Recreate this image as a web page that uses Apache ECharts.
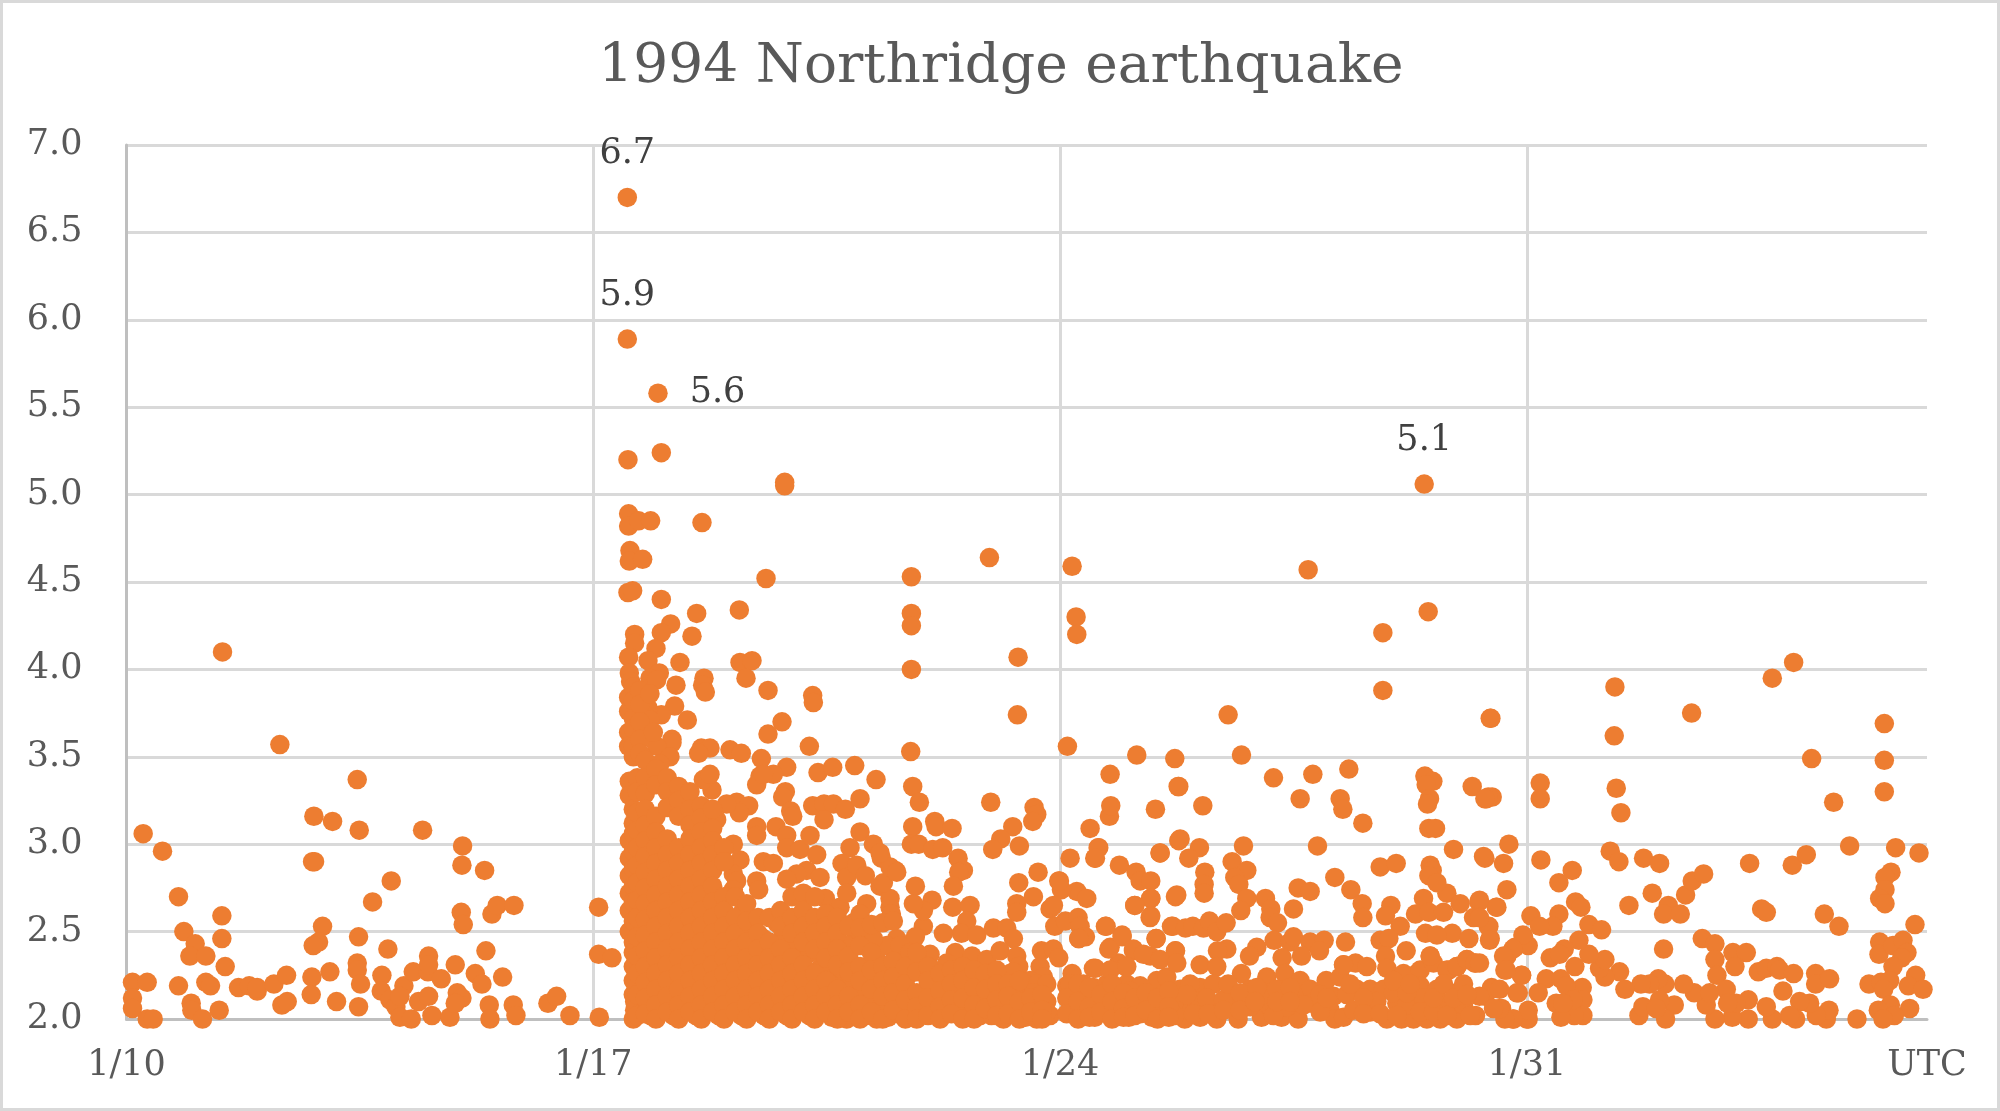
<!DOCTYPE html>
<html><head><meta charset="utf-8">
<style>html,body{margin:0;padding:0;background:#fff}#c{width:2000px;height:1111px}</style>
<script src="https://cdn.jsdelivr.net/npm/echarts@6/dist/echarts.min.js"></script>
</head><body><div id="c"></div>
<script>
const titleText = '1994 Northridge earthquake';
const tickLabels = {0:'1/10',7:'1/17',14:'1/24',21:'1/31',27:'UTC'};
// x = days after 1/10 00:00 UTC, y = magnitude
const labelled = [[7.51,6.70],[7.51,5.89],[7.97,5.58],[19.46,5.06]];
const week1 = [[.25,3.06],[.54,2.96],[.78,2.70],[.86,2.50],[1.03,2.43],[.95,2.36],[1.19,2.36],[1.43,2.59],[1.43,2.46],[1.48,2.30],[1.44,4.10],[.09,2.21],[.31,2.21],[.09,2.12],[.09,2.06],[.31,2.00],[.40,2.00],[.78,2.19],[.97,2.09],[.98,2.05],[1.14,2.00],[1.19,2.21],[1.26,2.19],[1.39,2.05],[1.68,2.18],[1.84,2.19],[1.96,2.16],[1.96,2.18],[2.21,2.20],[2.40,2.25],[2.33,2.08],[2.41,2.10],[2.30,3.57],[2.81,3.16],[3.09,3.13],[3.49,3.08],[3.46,3.37],[2.82,2.90],[2.79,2.90],[2.94,2.53],[2.88,2.44],[2.80,2.42],[2.78,2.24],[2.77,2.14],[3.05,2.27],[3.15,2.10],[3.48,2.47],[3.46,2.32],[3.46,2.28],[3.51,2.20],[3.48,2.07],[3.69,2.67],[3.97,2.79],[4.44,3.08],[3.92,2.40],[3.83,2.25],[3.82,2.16],[3.95,2.11],[4.04,2.07],[4.10,2.01],[4.27,2.00],[4.16,2.19],[4.10,2.13],[4.30,2.27],[4.53,2.36],[4.52,2.27],[4.53,2.31],[4.72,2.23],[4.38,2.10],[4.53,2.13],[4.58,2.02],[4.85,2.01],[4.93,2.31],[4.96,2.15],[5.03,2.12],[4.93,2.09],[5.04,2.99],[5.03,2.88],[5.37,2.85],[5.02,2.61],[5.05,2.54],[5.48,2.60],[5.56,2.65],[5.81,2.65],[5.39,2.39],[5.23,2.26],[5.33,2.20],[5.64,2.24],[5.44,2.08],[5.45,2.00],[5.80,2.08],[5.84,2.02],[6.32,2.09],[6.45,2.13],[6.65,2.02],[7.09,2.01],[7.08,2.64],[7.08,2.37],[7.28,2.35]];
const mainShockUpper = [[8.02,5.24],[7.52,5.20],[9.87,5.07],[9.87,5.05],[7.53,4.89],[7.53,4.82],[7.68,4.85],[7.86,4.85],[8.63,4.84],[7.55,4.68],[7.54,4.62],[7.74,4.63],[7.52,4.44],[7.59,4.45],[8.02,4.40],[9.59,4.52],[8.55,4.32],[8.16,4.26],[8.02,4.21],[8.48,4.19],[9.19,4.34],[7.62,4.20],[7.62,4.15],[7.94,4.12],[7.53,4.07],[7.82,4.05],[8.30,4.04],[9.20,4.04],[9.38,4.05],[9.29,3.95],[8.66,3.95],[8.64,3.91],[8.68,3.87],[8.24,3.91],[9.62,3.88],[10.29,3.85],[10.30,3.81],[7.99,3.98],[7.85,3.95],[7.95,3.94],[7.54,3.98],[7.56,3.93],[8.22,3.79],[8.41,3.71],[8.02,3.74],[9.83,3.70],[9.62,3.63],[10.24,3.56],[7.53,3.84],[7.53,3.76],[7.53,3.64],[7.53,3.56],[7.60,3.50],[7.82,3.78],[7.85,3.71],[7.75,3.63],[8.18,3.60],[8.18,3.58],[7.95,3.56],[8.15,3.50],[8.62,3.55],[8.75,3.55],[8.58,3.52],[9.05,3.54],[9.22,3.52],[9.52,3.49],[9.90,3.44],[9.70,3.40],[9.50,3.39],[10.37,3.41],[10.59,3.44],[10.92,3.45],[11.24,3.37],[7.6,3.9],[7.6,3.82],[7.6,3.72],[7.6,3.66],[7.6,3.56],[7.7,3.88],[7.7,3.8],[7.7,3.7],[7.7,3.6],[7.7,3.52],[7.85,3.86],[7.9,3.64],[8.0,3.46]];
const week2Scatter = [[9.45,3.34],[9.55,3.40],[9.88,3.30],[9.84,3.27],[9.96,3.19],[9.99,3.16],[10.29,3.22],[10.46,3.23],[10.60,3.23],[10.46,3.14],[10.78,3.20],[11.0,3.26],[9.15,3.24],[9.33,3.22],[9.19,3.18],[9.0,3.23],[9.45,3.10],[9.45,3.05],[9.74,3.10],[9.90,3.05],[9.90,2.98],[10.10,2.97],[10.25,3.05],[10.35,2.94],[11.0,3.07],[11.2,3.0],[10.85,2.98],[11.32,2.92],[11.53,2.85],[10.73,2.89],[10.80,2.81],[10.95,2.88],[11.08,2.82],[9.55,2.90],[9.70,2.89],[9.45,2.79],[9.48,2.74],[10.2,2.85],[10.05,2.83],[9.9,2.80],[10.4,2.81],[9.2,2.91],[9.1,2.83],[9.15,2.79],[9.1,2.74],[9.1,3.0],[8.8,3.01],[8.85,3.14],[8.78,3.31],[8.65,3.37],[8.75,3.40],[10.48,2.69],[10.7,2.64],[11.1,2.66],[10.8,2.72],[11.3,2.76],[11.45,2.64],[11.77,4.53],[11.77,4.32],[11.77,4.25],[11.77,4.0],[11.76,3.53],[11.79,3.33],[11.89,3.24],[12.96,3.24],[12.94,4.64],[11.79,3.10],[12.12,3.13],[12.14,3.10],[12.38,3.09],[13.61,3.21],[13.65,3.17],[13.59,3.13],[13.29,3.10],[13.11,3.03],[12.99,2.97],[13.39,2.99],[11.77,3.0],[11.88,3.0],[12.09,2.97],[12.24,2.98],[12.47,2.92],[12.55,2.85],[12.48,2.84],[12.40,2.76],[13.67,2.84],[13.38,2.78],[13.6,2.70],[13.35,2.66],[13.35,2.61],[11.83,2.76],[12.08,2.68],[11.45,2.69],[11.35,2.78],[11.45,2.87],[11.55,2.84],[11.3,2.95],[12.39,2.64],[12.65,2.65],[12.6,2.56],[12.52,2.49],[12.75,2.48],[13.0,2.52],[13.2,2.52],[13.3,2.46],[12.25,2.49],[11.95,2.53],[11.83,2.47],[11.55,2.46],[11.95,2.62],[11.8,2.66],[11.47,2.60],[12.43,2.38],[12.68,2.36],[12.9,2.34],[13.1,2.39],[13.35,2.36],[13.38,2.30],[13.25,2.26],[13.7,2.30],[13.75,2.24],[13.55,2.22],[12.05,2.37],[11.8,2.32],[11.52,2.34],[11.4,2.28],[13.72,2.39],[13.9,2.40],[13.98,2.35],[14.18,2.26],[13.98,2.79],[14.25,2.73],[14.4,2.69],[14.02,2.74],[13.85,2.63],[13.9,2.65],[13.92,2.53],[14.08,2.56],[14.27,2.58],[14.3,2.53],[14.38,2.47],[14.28,2.46],[14.15,2.92]];
const week3Upper = [[14.52,2.92],[14.58,2.98],[14.45,3.09],[14.74,3.16],[14.76,3.22],[14.75,3.40],[15.43,3.20],[15.78,3.33],[14.89,2.88],[15.14,2.84],[15.2,2.79],[15.36,2.79],[15.5,2.95],[15.78,3.02],[15.73,2.70],[15.36,2.69],[15.12,2.65],[15.35,2.58],[14.69,2.53],[14.93,2.48],[14.75,2.41],[15.1,2.39],[15.44,2.46],[15.69,2.53],[15.73,2.39],[14.5,2.29],[14.88,2.32],[14.98,2.30],[15.35,2.36],[15.45,2.22],[14.1,2.19],[14.35,2.20],[15.0,2.20],[14.7,2.20],[15.2,2.19],[15.6,2.24],[14.18,4.59],[14.24,4.30],[14.25,4.20],[17.72,4.57],[13.37,4.07],[13.36,3.74],[14.11,3.56],[19.52,4.33],[18.84,4.21],[18.84,3.88],[16.52,3.74],[20.46,3.72],[15.15,3.51],[15.72,3.49],[16.72,3.51],[15.77,3.33],[17.2,3.38],[17.79,3.40],[18.33,3.43],[15.8,3.03],[16.09,2.98],[15.93,2.92],[16.14,3.22],[17.6,3.26],[18.2,3.26],[18.24,3.20],[18.54,3.12],[19.47,3.39],[19.59,3.36],[19.49,3.34],[19.54,3.26],[19.51,3.23],[19.53,3.09],[19.63,3.09],[20.18,3.33],[20.39,3.26],[20.48,3.27],[15.5,2.95],[14.57,2.98],[14.53,2.92],[16.75,2.99],[17.86,2.99],[19.9,2.97],[20.35,2.93],[16.58,2.90],[16.80,2.85],[16.62,2.81],[16.68,2.77],[16.17,2.84],[16.16,2.77],[16.16,2.72],[18.8,2.87],[19.04,2.89],[19.55,2.88],[19.58,2.85],[19.53,2.82],[18.12,2.81],[18.36,2.74],[17.57,2.75],[17.75,2.73],[18.53,2.66],[18.54,2.58],[15.75,2.71],[15.36,2.69],[15.12,2.65],[15.36,2.59],[18.96,2.65],[18.88,2.59],[19.1,2.53],[17.5,2.63],[17.08,2.69],[16.8,2.69],[16.71,2.62],[17.16,2.63],[17.15,2.58],[17.26,2.55],[13.99,2.79],[15.67,2.53],[15.88,2.52],[15.99,2.53],[16.15,2.52],[16.24,2.56],[16.35,2.50],[16.49,2.55],[14.93,2.47],[14.73,2.40],[15.44,2.46],[15.1,2.40],[16.5,2.40],[16.36,2.39],[15.73,2.39],[16.95,2.41],[16.84,2.36],[17.21,2.45],[17.45,2.44],[17.5,2.47],[17.75,2.44],[17.96,2.45],[17.89,2.39],[17.62,2.36],[17.33,2.35],[18.28,2.44],[18.8,2.45],[18.93,2.46],[18.88,2.36],[19.19,2.39],[19.45,2.69],[19.33,2.60],[19.53,2.61],[19.75,2.61],[19.8,2.72],[19.65,2.78],[20.0,2.66],[20.28,2.67],[20.55,2.64],[20.2,2.58],[20.43,2.53],[19.88,2.49],[20.13,2.46],[19.48,2.49],[19.65,2.48],[20.45,2.46],[19.55,2.36],[20.1,2.34],[20.23,2.32],[19.95,2.30],[18.25,2.31],[18.43,2.32],[18.6,2.30],[18.9,2.29],[14.53,2.29],[14.75,2.28],[15.0,2.30],[15.25,2.37],[15.5,2.34],[15.75,2.32],[16.1,2.31],[16.35,2.30],[19.15,2.26],[19.35,2.26],[19.83,2.28],[14.28,2.46],[14.68,2.53]];
const week3Lower = [[15.87,2.0],[16.1,2.01],[16.35,2.0],[16.67,2.0],[17.02,2.01],[17.32,2.01],[17.57,2.0],[15.8,2.17],[16.1,2.18],[16.3,2.2],[16.55,2.15],[16.72,2.26],[16.85,2.17],[17.1,2.24],[17.15,2.15],[17.37,2.26],[17.6,2.22],[17.75,2.17],[15.8,2.07],[16.05,2.08],[16.3,2.07],[16.6,2.07],[16.85,2.07],[17.15,2.07],[17.4,2.07],[17.77,2.09],[17.99,2.22],[18.2,2.24],[18.25,2.31],[18.1,2.13],[18.05,2.05],[18.12,2.0],[18.25,2.01],[18.45,2.17],[18.65,2.17],[18.85,2.17],[18.6,2.07],[18.65,2.04],[18.9,2.0],[19.15,2.24],[19.4,2.28],[19.6,2.32],[19.55,2.36],[19.8,2.28],[19.95,2.30],[20.1,2.34],[20.22,2.32],[19.15,2.17],[19.4,2.19],[19.65,2.17],[19.95,2.15],[19.12,2.0],[19.3,2.0],[19.5,2.0],[19.7,2.0],[19.95,2.0],[20.23,2.02],[19.05,2.09],[19.3,2.09],[19.55,2.07],[19.85,2.07],[20.37,2.13],[20.47,2.18],[20.62,2.06],[20.85,2.15],[20.8,2.0],[21.0,2.0],[20.67,2.28],[20.7,2.36],[20.82,2.41],[20.92,2.25],[20.95,2.47],[15.95,2.2],[16.2,2.12],[16.45,2.11],[16.75,2.12],[17.0,2.13],[17.25,2.17],[17.5,2.14],[17.65,2.08],[17.9,2.14],[18.3,2.14],[18.4,2.05],[18.75,2.1],[19.0,2.15],[19.2,2.08],[19.45,2.12],[19.7,2.1],[20.05,2.08]];
const week4 = [[20.45,3.72],[21.2,3.35],[21.2,3.26],[22.32,3.90],[22.31,3.62],[22.34,3.32],[22.41,3.18],[23.47,3.75],[24.68,3.95],[25.0,4.04],[25.27,3.49],[26.36,3.69],[26.36,3.48],[26.36,3.30],[25.6,3.24],[20.42,3.27],[20.37,3.26],[20.73,3.0],[20.37,2.92],[20.65,2.89],[20.7,2.74],[20.54,2.64],[21.21,2.91],[21.68,2.85],[21.48,2.78],[21.73,2.67],[21.81,2.64],[21.48,2.60],[21.06,2.59],[21.39,2.53],[21.19,2.53],[21.93,2.54],[22.12,2.51],[22.25,2.96],[22.38,2.90],[22.75,2.92],[22.99,2.89],[22.53,2.65],[22.88,2.72],[23.38,2.71],[23.48,2.79],[23.65,2.83],[23.12,2.65],[23.05,2.60],[23.3,2.60],[23.05,2.40],[24.34,2.89],[24.98,2.88],[25.19,2.94],[25.84,2.99],[26.53,2.98],[26.88,2.95],[26.46,2.84],[26.37,2.81],[26.37,2.74],[26.29,2.69],[26.37,2.66],[24.52,2.63],[24.59,2.61],[25.46,2.60],[25.68,2.53],[26.82,2.54],[23.63,2.46],[23.82,2.43],[23.82,2.34],[23.85,2.25],[24.09,2.38],[24.29,2.38],[24.12,2.30],[24.47,2.27],[24.59,2.29],[24.75,2.30],[24.79,2.28],[25.0,2.26],[24.84,2.16],[25.33,2.26],[25.33,2.20],[25.54,2.23],[26.29,2.44],[26.28,2.37],[26.49,2.42],[26.64,2.45],[26.7,2.38],[26.62,2.35],[26.49,2.30],[26.13,2.20],[26.31,2.21],[26.44,2.22],[26.35,2.17],[26.83,2.25],[26.72,2.19],[26.94,2.17],[26.74,2.06],[26.45,2.08],[26.27,2.05],[26.51,2.02],[26.34,2.0],[25.95,2.0],[25.49,2.0],[25.53,2.05],[25.34,2.02],[25.24,2.09],[25.09,2.10],[25.03,2.0],[24.94,2.02],[24.68,2.0],[24.59,2.07],[24.32,2.11],[24.32,2.0],[24.08,2.01],[23.82,2.0],[24.14,2.09],[23.99,2.17],[24.01,2.09],[23.69,2.08],[23.51,2.15],[23.74,2.15],[23.35,2.2],[23.07,2.2],[22.97,2.23],[22.84,2.2],[22.71,2.2],[22.47,2.17],[23.21,2.08],[22.99,2.11],[23.08,2.0],[22.68,2.02],[22.74,2.07],[22.94,2.06],[22.39,2.27],[22.17,2.24],[22.09,2.29],[22.17,2.34],[21.93,2.37],[21.78,2.45],[21.72,2.30],[21.56,2.40],[21.35,2.35],[21.49,2.37],[21.29,2.23],[21.51,2.23],[21.83,2.18],[21.59,2.19],[21.17,2.15],[21.84,2.11],[21.84,2.02],[21.71,2.02],[21.51,2.01],[21.44,2.09],[21.69,2.11],[21.54,2.09],[21.02,2.0],[21.02,2.05],[20.79,2.0],[20.67,2.0],[20.59,2.06],[20.87,2.15],[20.92,2.25],[21.02,2.42],[20.94,2.48],[20.79,2.4],[20.65,2.36],[20.69,2.28],[20.47,2.17],[20.59,2.17],[20.29,2.13],[20.42,2.53],[20.44,2.45],[20.29,2.68],[20.29,2.58],[20.29,2.32]];
const denseExtra = [[7.6,2.14],[7.62,2.05],[7.6,2.0],[7.62,2.1],[10.0,2.56],[10.2,2.47],[10.35,2.39],[10.5,2.33],[10.7,2.26],[10.85,2.2],[11.0,2.15],[11.15,2.1],[11.3,2.05],[10.6,2.26],[10.75,2.36],[10.9,2.44],[10.95,2.3],[11.1,2.22],[11.1,2.45],[11.25,2.34],[11.3,2.15],[11.4,2.42],[11.45,2.08],[11.6,2.42],[11.6,2.25],[11.6,2.13],[11.75,2.38],[11.75,2.26],[11.75,2.06],[11.9,2.32],[11.95,2.1],[12.1,2.28],[12.1,2.17],[12.1,2.05],[12.3,2.32],[12.28,2.12],[12.45,2.15],[12.45,2.24],[12.45,2.05],[12.62,2.26],[12.62,2.15],[12.62,2.05],[12.8,2.22],[12.8,2.12],[12.8,2.02],[12.95,2.2],[12.95,2.1],[12.97,2.02],[13.12,2.16],[13.12,2.07],[13.3,2.27],[13.3,2.16],[13.3,2.07],[13.48,2.2],[13.48,2.14],[13.48,2.06],[13.65,2.2],[13.65,2.1],[13.65,2.0],[13.8,2.2],[13.8,2.1],[13.85,2.02],[14.15,2.2],[14.2,2.05],[14.35,2.12],[14.5,2.18],[14.55,2.08],[14.7,2.12],[14.85,2.15],[14.87,2.05],[15.05,2.16],[15.05,2.08],[15.2,2.08],[15.38,2.1],[15.38,2.01],[15.55,2.14],[15.55,2.05],[15.72,2.1],[15.72,2.02],[15.9,2.14],[16.0,2.03],[16.22,2.03],[16.45,2.05],[16.52,2.2],[16.7,2.15],[16.7,2.05],[16.95,2.18],[16.92,2.1],[17.2,2.02],[17.25,2.1],[17.45,2.18],[17.45,2.1],[17.9,2.04],[18.0,2.12],[18.35,2.2],[18.55,2.12],[18.55,2.03],[18.8,2.03],[19.0,2.22],[19.05,2.02],[19.2,2.15],[19.25,2.2],[19.4,2.04],[19.6,2.04],[19.6,2.12],[19.75,2.2],[19.8,2.02],[19.9,2.12],[20.05,2.2],[20.1,2.14],[20.15,2.02],[20.5,2.06],[9.75,2.55],[9.85,2.47],[10.05,2.42],[10.25,2.38],[10.4,2.29],[10.55,2.2],[10.7,2.13],[10.85,2.1],[10.95,2.06],[10.7,2.04],[10.55,2.08],[9.25,2.62],[9.4,2.5],[9.55,2.46],[10.8,2.42],[10.65,2.52],[10.4,2.56],[10.9,2.55],[11.2,2.46],[7.86,2.02],[8.03,2.06],[8.2,2.02],[8.37,2.06],[8.54,2.02],[8.71,2.06],[8.88,2.02],[9.05,2.06],[9.22,2.02],[9.39,2.06],[9.56,2.02],[9.73,2.06],[9.9,2.02],[10.07,2.06],[10.24,2.02],[10.41,2.06],[10.58,2.01],[10.8,2.0],[11.08,2.02],[11.25,2.0],[11.42,2.01],[11.58,2.03],[11.92,2.03],[12.1,1.99],[12.3,2.04],[12.62,2.01],[12.8,2.07],[13.0,2.06],[13.15,2.0],[13.48,2.01],[13.6,2.15],[13.8,2.04],[14.25,2.15],[14.4,2.02],[14.52,2.01],[14.7,2.06],[15.03,2.01],[15.2,2.03],[15.3,2.11]];
// densely packed aftershocks, one column per read-off time: [day, magnitudes]
const denseColumns = [
[7.54,[3.36,3.28,3.02,2.92,2.82,2.72,2.62,2.5]],
[7.6,[3.2,3.12,3.06,2.96,2.86,2.76,2.67,2.56,2.44,2.38,2.3,2.22]],
[7.66,[3.38,3.3,3.18,3.08,2.98,2.88,2.78,2.68,2.58,2.47,2.36,2.26,2.14,2.02]],
[7.78,[3.48,3.38,3.29,3.2,3.11,3.02,2.93,2.84,2.75,2.66,2.57,2.48,2.39,2.3,2.21,2.12,2.03]],
[7.94,[3.43,3.34,3.16,3.07,2.98,2.89,2.8,2.71,2.62,2.53,2.44,2.35,2.26,2.17,2.08,2.0]],
[8.11,[3.38,3.3,3.21,3.03,2.94,2.85,2.76,2.67,2.58,2.49,2.4,2.31,2.22,2.13,2.04]],
[8.28,[3.33,3.25,3.16,2.98,2.89,2.8,2.71,2.62,2.53,2.44,2.35,2.26,2.17,2.08,2.0]],
[8.45,[3.3,3.2,3.11,3.03,2.94,2.85,2.76,2.67,2.58,2.49,2.4,2.31,2.22,2.13,2.04]],
[8.62,[3.22,3.15,3.07,2.98,2.89,2.8,2.71,2.62,2.53,2.44,2.35,2.26,2.17,2.08,2.0]],
[8.79,[3.2,3.09,3.02,2.94,2.85,2.76,2.67,2.58,2.49,2.4,2.31,2.22,2.13,2.04]],
[8.96,[2.98,2.9,2.7,2.62,2.53,2.44,2.35,2.26,2.17,2.08,2.0]],
[9.13,[2.7,2.58,2.49,2.4,2.31,2.22,2.13,2.04]],
[9.3,[2.66,2.56,2.44,2.35,2.26,2.17,2.08,2.0]],
[9.47,[2.58,2.49,2.4,2.31,2.22,2.13,2.04]],
[9.64,[2.58,2.44,2.35,2.26,2.17,2.08,2.0]],
[9.81,[2.62,2.53,2.4,2.31,2.22,2.13,2.04]],
[9.98,[2.7,2.58,2.49,2.35,2.26,2.17,2.08,2.0]],
[10.15,[2.72,2.62,2.53,2.44,2.31,2.22,2.13,2.04]],
[10.32,[2.7,2.58,2.49,2.4,2.26,2.17,2.08,2.0]],
[10.49,[2.6,2.53,2.44,2.35,2.22,2.13,2.04]],
[10.66,[2.58,2.49,2.4,2.31,2.17,2.08,2.0]],
[10.83,[2.53,2.36,2.27,2.13,2.04]],
[11.0,[2.6,2.52,2.42,2.3,2.22,2.08,2.0]],
[11.17,[2.54,2.38,2.28,2.17,2.04]],
[11.34,[2.55,2.3,2.22,2.13,2.0]],
[11.5,[2.56,2.33,2.24,2.15,2.05]],
[11.68,[2.3,2.2,2.11,2.0]],
[11.85,[2.38,2.27,2.15,2.07,2.0]],
[12.02,[2.3,2.22,2.12,2.02]],
[12.2,[2.26,2.16,2.07,2.0]],
[12.37,[2.28,2.2,2.11,2.03]],
[12.54,[2.3,2.22,2.12,2.0]],
[12.71,[2.28,2.18,2.08,2.0]],
[12.88,[2.26,2.17,2.06]],
[13.05,[2.28,2.2,2.11,2.02]],
[13.22,[2.2,2.13,2.03]],
[13.39,[2.22,2.1,2.0]],
[13.56,[2.12,2.04]],
[13.73,[2.14,2.05,2.0]],
[14.1,[2.12,2.03]],
[14.27,[2.2,2.1,2.0]],
[14.44,[2.18,2.07,2.01]],
[14.61,[2.14,2.04]],
[14.78,[2.2,2.1,2.0]],
[14.95,[2.15,2.06,2.01]],
[15.12,[2.12,2.02]],
[15.29,[2.15,2.05]],
[15.46,[2.12,2.0]],
[15.63,[2.16,2.07,2.01]]
];

const denseData = denseColumns.flatMap(c => c[1].map(m => [c[0], m]));
const orange = '#ED7D31';
const serif = '"DejaVu Serif"';
const chart = echarts.init(document.getElementById('c'), null, {renderer:'canvas'});
chart.setOption({
  animation:false,
  backgroundColor:'#fff',
  title:{text:titleText,left:996,top:63,textAlign:'center',textVerticalAlign:'middle',
    textStyle:{fontFamily:serif,fontSize:55,fontWeight:'normal',color:'#595959'}},
  grid:{left:126.5,right:73,top:145,bottom:92},
  xAxis:{type:'value',min:0,max:27,interval:7,
    axisLine:{show:true,onZero:false,lineStyle:{color:'#BFBFBF',width:3}},
    axisTick:{show:false},
    splitLine:{show:true,showMinLine:false,showMaxLine:false,lineStyle:{color:'#D9D9D9',width:3}},
    axisLabel:{show:true,margin:29,showMaxLabel:true,showMinLabel:true,fontFamily:serif,fontSize:35,
      color:v=>v===27?'#000000':'#595959',formatter:v=>tickLabels[v]||''}},
  yAxis:{type:'value',min:2,max:7,interval:.5,
    axisLine:{show:true,lineStyle:{color:'#BFBFBF',width:3}},
    axisTick:{show:false},
    splitLine:{show:true,showMinLine:false,lineStyle:{color:'#D9D9D9',width:3}},
    axisLabel:{margin:44,padding:[10,0,0,0],fontFamily:serif,fontSize:35,color:'#595959',formatter:v=>v.toFixed(1)}},
  graphic:[{type:'rect',shape:{x:1.5,y:1.5,width:1997,height:1108},z:-1,silent:true,
    style:{fill:'none',stroke:'#D9D9D9',lineWidth:3}}],
  series:[
    {type:'scatter',symbolSize:19.5,itemStyle:{color:orange,opacity:1},
     data:[].concat(week1,mainShockUpper,week2Scatter,week3Upper,week3Lower,week4,denseExtra,denseData)},
    {type:'scatter',symbolSize:19.5,itemStyle:{color:orange,opacity:1},
     data:labelled.map((p,i)=>({value:p,label:{show:true,
       position:i===2?'right':'top',distance:i===2?22:16,
       formatter:o=>o.value[1].toFixed(1),fontFamily:serif,fontSize:35,color:'#404040'}}))}
  ]
});
</script></body></html>
